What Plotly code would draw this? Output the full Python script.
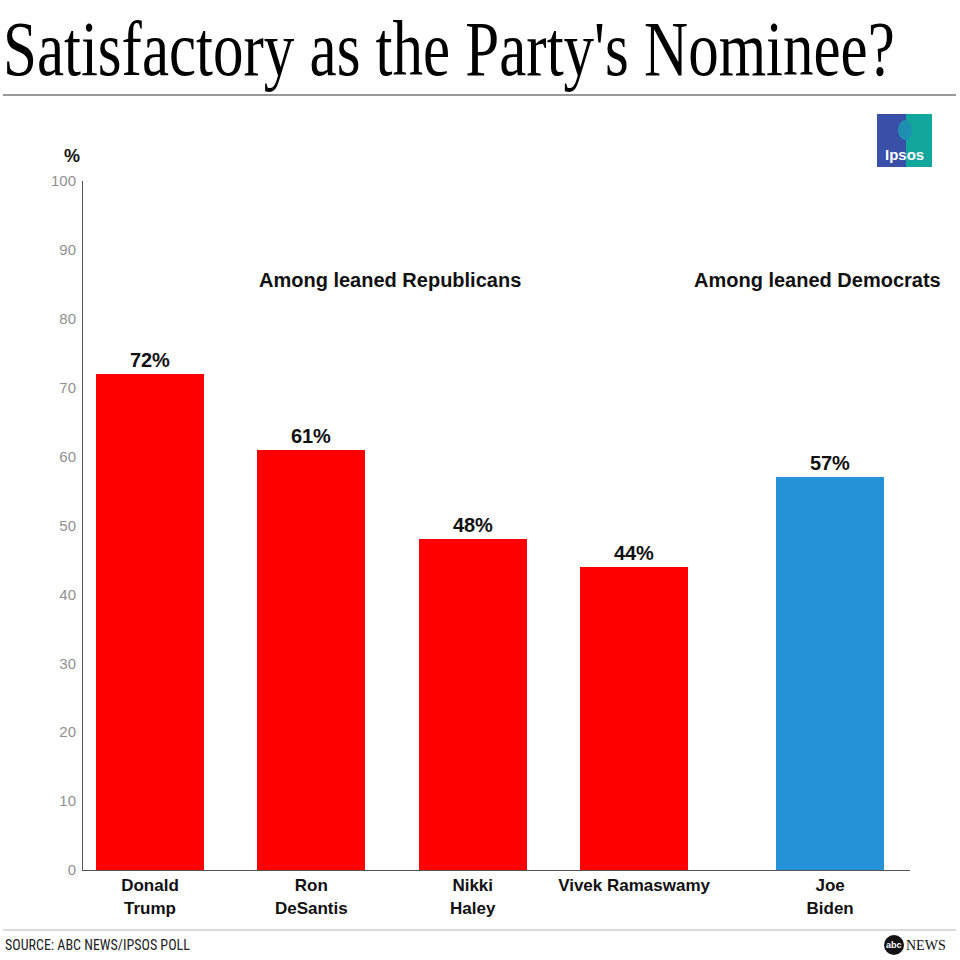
import plotly.graph_objects as go

# ---- data ----
candidates = ["Donald<br>Trump", "Ron<br>DeSantis", "Nikki<br>Haley", "Vivek Ramaswamy", "Joe<br>Biden"]
party = ["R", "R", "R", "R", "D"]
values = [72, 61, 48, 44, 57]
value_labels = ["72%", "61%", "48%", "44%", "57%"]
y_ticks = [0, 10, 20, 30, 40, 50, 60, 70, 80, 90, 100]
group_labels = ["Among leaned Republicans", "Among leaned Democrats"]
title_text = "Satisfactory as the Party's Nominee?"
source_text = "SOURCE: ABC NEWS/IPSOS POLL"

RED = "#FF0000"
BLUE = "#2592D8"
colors = [RED if p == "R" else BLUE for p in party]

# slot positions: extra gap before the Democratic group
GROUP_GAP = 0.215
x_pos = []
for i, p in enumerate(party):
    x_pos.append(i + (GROUP_GAP if p == "D" else 0))

W, H = 960, 960
L, R, T, B = 83, 50, 181, 90
PW, PH = W - L - R, H - T - B


def px(xp):
    return (xp - L) / PW


def py(yp):
    return (H - B - yp) / PH


SANS = "Liberation Sans, Arial, Helvetica, sans-serif"
SERIF = "Liberation Serif, Times New Roman, serif"

fig = go.Figure()
fig.add_trace(go.Bar(
    x=x_pos, y=values, width=0.67,
    marker=dict(color=colors, line=dict(width=0)),
    text=value_labels, textposition="outside", cliponaxis=False,
    textfont=dict(family=SANS, size=20, color="#111", weight="bold"),
    hoverinfo="skip",
))

fig.update_layout(
    width=W, height=H,
    margin=dict(l=L, r=R, t=T, b=B, pad=0),
    paper_bgcolor="white", plot_bgcolor="white",
    showlegend=False,
    bargap=0,
    xaxis=dict(
        range=[-0.415, 4.71], tickmode="array", tickvals=x_pos, ticktext=candidates,
        showgrid=False, zeroline=False, showline=True, linecolor="#555", linewidth=1,
        ticks="", tickfont=dict(family=SANS, size=17, color="#111", weight="bold"),
        ticklabelstandoff=0,
    ),
    yaxis=dict(
        range=[0, 100], tickmode="array", tickvals=y_ticks,
        showgrid=False, zeroline=False, showline=True, linecolor="#555", linewidth=1,
        ticks="outside", ticklen=3, tickcolor="rgba(0,0,0,0)",
        tickfont=dict(family=SANS, size=15, color="#909090"),
    ),
    title=dict(
        text=title_text, x=3 / W, xanchor="left", xref="container",
        y=1 - 47 / H, yanchor="middle", yref="container",
        font=dict(family=SERIF, size=61, color="#000"),
    ),
)

annotations = [
    dict(text="%", x=px(72), y=py(156), font=dict(family=SANS, size=18, color="#111", weight="bold")),
    dict(text=group_labels[0], x=px(390), y=py(280), font=dict(family=SANS, size=20, color="#111", weight="bold")),
    dict(text=group_labels[1], x=px(817), y=py(280), font=dict(family=SANS, size=20, color="#111", weight="bold")),
    dict(text=source_text, x=px(3), y=py(945), xanchor="left",
         font=dict(family="Liberation Sans Narrow, Roboto Condensed, " + SANS, size=14, color="#222")),
    dict(text="<b>Ipsos</b>", x=px(904), y=py(154), font=dict(family=SANS, size=15, color="white")),
    dict(text="abc", x=px(894), y=py(945), font=dict(family=SANS, size=9, color="white", weight="bold")),
    dict(text="NEWS", x=px(904), y=py(945), xanchor="left", font=dict(family=SERIF, size=14, color="#111")),
]
for a in annotations:
    a.setdefault("xanchor", "center")
    a.update(xref="paper", yref="paper", showarrow=False, yanchor="middle")
fig.update_layout(annotations=annotations)

shapes = [
    dict(type="line", x0=px(3), x1=px(956), y0=py(95), y1=py(95), line=dict(color="#777", width=1.5)),
    dict(type="line", x0=px(3), x1=px(956), y0=py(930), y1=py(930), line=dict(color="#cfcfcf", width=1.5)),
    dict(type="rect", x0=px(877), x1=px(906), y0=py(167), y1=py(114), fillcolor="#3A4FA8", line=dict(width=0)),
    dict(type="rect", x0=px(906), x1=px(932), y0=py(167), y1=py(114), fillcolor="#12A79D", line=dict(width=0)),
    dict(type="circle", x0=px(898), x1=px(912), y0=py(140), y1=py(120), fillcolor="#1e8fb0", line=dict(width=0)),
    dict(type="circle", x0=px(884), x1=px(904), y0=py(955), y1=py(935), fillcolor="#111", line=dict(width=0)),
]
for s in shapes:
    s.update(xref="paper", yref="paper")
fig.update_layout(shapes=shapes)

post = """
var st = document.createElement('style');
st.textContent = 'body{margin:0 !important;} text.gtitle{transform-box:fill-box;transform-origin:0% 50%;transform:scaleY(1.3);}';
document.head.appendChild(st);
"""
fig.write_html("out.html", post_script=post, config={"displayModeBar": False})
